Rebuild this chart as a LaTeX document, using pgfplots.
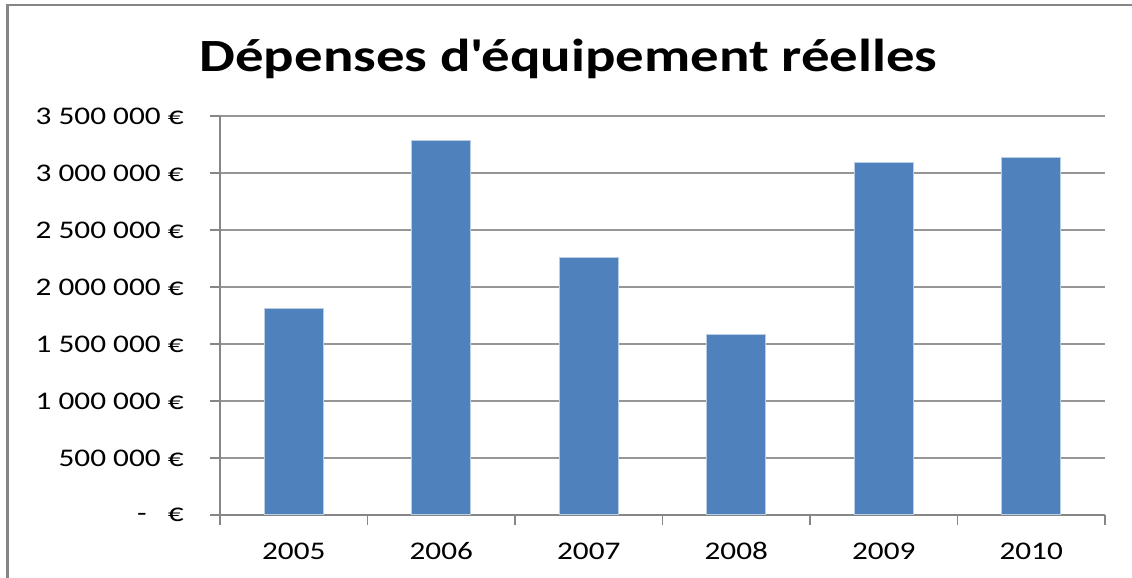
\documentclass[border=0pt]{standalone}
\usepackage{fontspec}
\setmainfont{Carlito}[FakeStretch=1.23]
\usepackage{pgfplots}
\pgfplotsset{compat=1.18}
\definecolor{barblue}{RGB}{79,129,189}
\definecolor{baredge}{RGB}{185,205,229}
\definecolor{axgray}{RGB}{134,134,134}
\definecolor{gridgray}{RGB}{150,150,150}
\begin{document}
\begin{tikzpicture}
\useasboundingbox (0,0) rectangle (566pt,289pt);
\draw[axgray, line width=1.2pt] (3.75pt,0) -- (3.75pt,286.5pt) -- (566pt,286.5pt);
\node[anchor=base, font=\bfseries\fontsize{23.1}{28}\selectfont, inner sep=0pt] at (284.3pt,253.2pt) {Dépenses d\textquotesingle équipement réelles};
\begin{axis}[
  at={(110pt,31.5pt)}, anchor=south west, scale only axis,
  width=442.5pt, height=199.5pt,
  xmin=-0.5, xmax=5.5, ymin=0, ymax=3500000,
  axis lines*=left,
  axis line style={-, axgray, line width=0.6pt},
  xtick={0,...,5},
  xticklabels={2005,2006,2007,2008,2009,2010},
  major x tick style={draw=none},
  minor xtick={-0.5,0.5,...,5.5},
  tick align=outside,
  major tick length=5pt, minor tick length=5pt,
  tick style={axgray, line width=0.6pt},
  ytick={0,500000,1000000,1500000,2000000,2500000,3000000,3500000},
  yticklabels={{-\hspace{10.5pt}€},{500 000 €},{1 000 000 €},{1 500 000 €},{2 000 000 €},{2 500 000 €},{3 000 000 €},{3 500 000 €}},
  scaled y ticks=false,
  ymajorgrids,
  grid style={gridgray, line width=0.6pt},
  yticklabel style={anchor=east, inner sep=0pt, xshift=-13pt, font=\fontsize{12.7}{15}\selectfont},
  xticklabel style={anchor=base, inner sep=0pt, yshift=-17.5pt, font=\fontsize{12.7}{15}\selectfont},
]
\addplot[ybar, bar width=29.3pt, fill=barblue, draw=baredge, line width=0.5pt]
  coordinates {(0,1810000) (1,3281000) (2,2263000) (3,1585000) (4,3090000) (5,3134000)};
\end{axis}
\end{tikzpicture}
\end{document}
